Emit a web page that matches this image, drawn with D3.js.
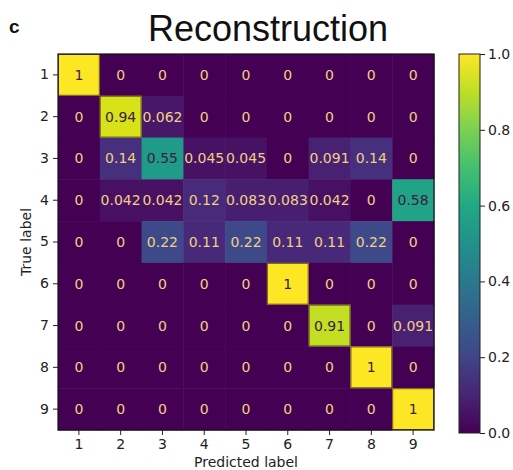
<!DOCTYPE html>
<html>
<head>
<meta charset="utf-8">
<script src="https://cdn.jsdelivr.net/npm/d3@7"></script>
<style>
  body { margin: 0; background: #fff; }
  svg text { font-family: "DejaVu Sans", sans-serif; }
</style>
</head>
<body>
<svg id="chart" width="513" height="470"></svg>
<script>
const labels = ['1', '2', '3', '4', '5', '6', '7', '8', '9']
const row1 = [1, 0, 0, 0, 0, 0, 0, 0, 0]
const row2 = [0, 0.94, 0.062, 0, 0, 0, 0, 0, 0]
const row3 = [0, 0.14, 0.55, 0.045, 0.045, 0, 0.091, 0.14, 0]
const row4 = [0, 0.042, 0.042, 0.12, 0.083, 0.083, 0.042, 0, 0.58]
const row5 = [0, 0, 0.22, 0.11, 0.22, 0.11, 0.11, 0.22, 0]
const row6 = [0, 0, 0, 0, 0, 1, 0, 0, 0]
const row7 = [0, 0, 0, 0, 0, 0, 0.91, 0, 0.091]
const row8 = [0, 0, 0, 0, 0, 0, 0, 1, 0]
const row9 = [0, 0, 0, 0, 0, 0, 0, 0, 1]
const rows = [row1, row2, row3, row4, row5, row6, row7, row8, row9]
const cbTicks = [0, 0.2, 0.4, 0.6, 0.8, 1.0]

const svg = d3.select('#chart')
const mLeft = 58, mTop = 54, size = 376

const x = d3.scaleBand().domain(labels).range([mLeft, mLeft + size])
const y = d3.scaleBand().domain(labels).range([mTop, mTop + size])
const color = d3.scaleSequential(d3.interpolateViridis).domain([0, 1])

const cells = []
rows.forEach((r, i) => r.forEach((v, j) => cells.push({ t: labels[i], p: labels[j], v })))

svg.selectAll('rect.cell')
  .data(cells)
  .enter()
  .append('rect')
  .attr('class', 'cell')
  .attr('x', d => x(d.p))
  .attr('y', d => y(d.t))
  .attr('width', x.bandwidth() + 0.5)
  .attr('height', y.bandwidth() + 0.5)
  .attr('fill', d => color(d.v))

// dark outline round the bright cells, as in the scan
svg.selectAll('rect.hl')
  .data(cells.filter(d => d.v > 0.85))
  .enter()
  .append('rect')
  .attr('x', d => x(d.p) + 0.5)
  .attr('y', d => y(d.t) + 0.5)
  .attr('width', x.bandwidth() - 1)
  .attr('height', y.bandwidth() - 1)
  .attr('fill', 'none')
  .attr('stroke', '#6b5a20')
  .attr('stroke-width', 1)

svg.selectAll('text.val')
  .data(cells)
  .enter()
  .append('text')
  .attr('class', 'val')
  .attr('x', d => x(d.p) + x.bandwidth() / 2)
  .attr('y', d => y(d.t) + y.bandwidth() / 2)
  .attr('dy', '0.36em')
  .attr('text-anchor', 'middle')
  .attr('font-size', 14)
  .attr('fill', d => d.v > 0.5 ? '#3a2040' : '#f2cf82')
  .text(d => d.v)

svg.append('rect')
  .attr('x', mLeft).attr('y', mTop)
  .attr('width', size).attr('height', size)
  .attr('fill', 'none').attr('stroke', '#111').attr('stroke-width', 1.2)

const xAxis = svg.append('g')
  .attr('transform', `translate(0,${mTop + size})`)
  .call(d3.axisBottom(x).tickSize(5).tickPadding(4))
const yAxis = svg.append('g')
  .attr('transform', `translate(${mLeft},0)`)
  .call(d3.axisLeft(y).tickSize(5).tickPadding(4))
;[xAxis, yAxis].forEach(g => {
  g.select('.domain').remove()
  g.selectAll('text').attr('font-size', 14).attr('fill', '#222').style('font-family', '"DejaVu Sans", sans-serif')
  g.selectAll('line').attr('stroke', '#222')
})

svg.append('text')
  .attr('x', mLeft + size / 2).attr('y', 467)
  .attr('text-anchor', 'middle').attr('font-size', 14).attr('fill', '#222')
  .text('Predicted label')

svg.append('text')
  .attr('transform', `translate(31,${mTop + size / 2}) rotate(-90)`)
  .attr('text-anchor', 'middle').attr('font-size', 14).attr('fill', '#222')
  .text('True label')

svg.append('text')
  .attr('x', 268).attr('y', 41)
  .attr('text-anchor', 'middle')
  .style('font-family', '"Liberation Sans", Arial, sans-serif')
  .attr('font-size', 36).attr('fill', '#111')
  .text('Reconstruction')

svg.append('text')
  .attr('x', 9).attr('y', 33)
  .style('font-family', '"Liberation Sans", Arial, sans-serif')
  .attr('font-weight', 'bold').attr('font-size', 19).attr('fill', '#111')
  .text('c')

// colour bar
const cbX = 459, cbW = 21, cbBottom = 433
const cbScale = d3.scaleLinear().domain([0, 1]).range([cbBottom, mTop])
const defs = svg.append('defs')
const grad = defs.append('linearGradient')
  .attr('id', 'cb').attr('x1', 0).attr('y1', 1).attr('x2', 0).attr('y2', 0)
d3.range(0, 1.0001, 0.1).forEach(t => {
  grad.append('stop').attr('offset', t).attr('stop-color', color(t))
})
svg.append('rect')
  .attr('x', cbX).attr('y', mTop)
  .attr('width', cbW).attr('height', cbBottom - mTop)
  .attr('fill', 'url(#cb)').attr('stroke', '#222').attr('stroke-width', 1)

const cbAxis = svg.append('g')
  .attr('transform', `translate(${cbX + cbW},0)`)
  .call(d3.axisRight(cbScale).tickValues(cbTicks).tickFormat(d3.format('.1f')).tickSize(5).tickPadding(3))
cbAxis.select('.domain').remove()
cbAxis.selectAll('text').attr('font-size', 14).attr('fill', '#222').style('font-family', '"DejaVu Sans", sans-serif')
cbAxis.selectAll('line').attr('stroke', '#222')
</script>
</body>
</html>
